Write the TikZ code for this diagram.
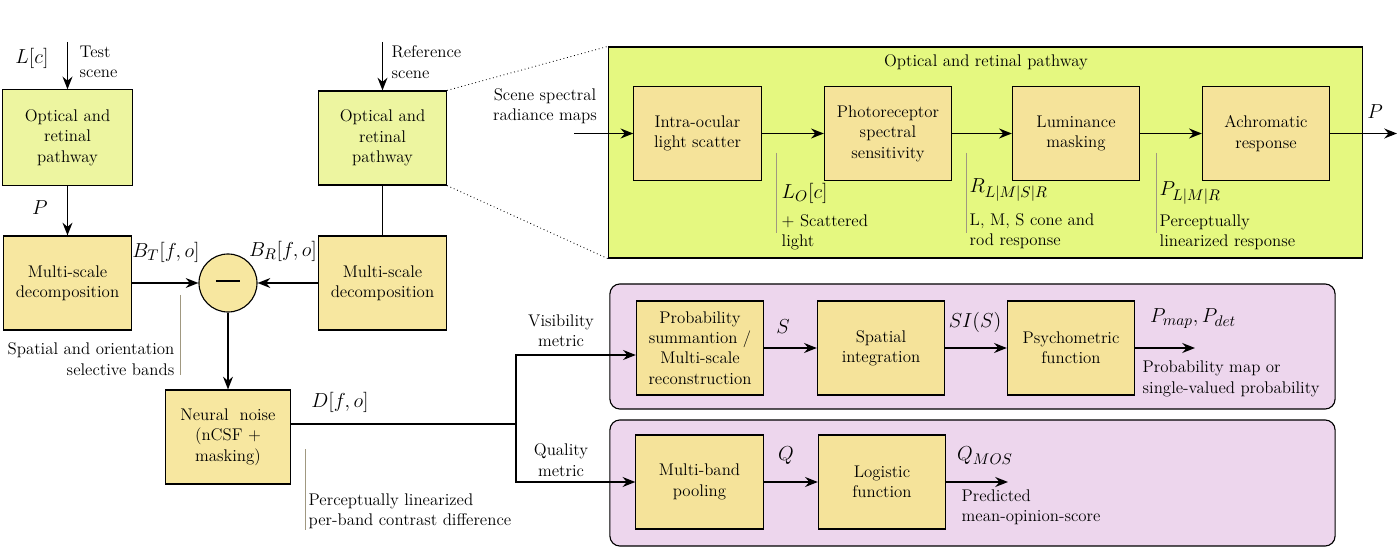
\documentclass[tikz,border=0pt]{standalone}
\usepackage{amsmath}
\usetikzlibrary{arrows.meta}

\definecolor{optgreen}{RGB}{237,245,160}
\definecolor{msyellow}{RGB}{247,231,160}
\definecolor{bigGreen}{RGB}{229,248,128}
\definecolor{subYellow}{RGB}{245,227,154}
\definecolor{lilac}{RGB}{237,214,237}
\definecolor{tick}{RGB}{160,152,128}

\tikzset{
  blk/.style={draw, line width=0.8pt, minimum width=3.18cm, minimum height=2.35cm, align=center, inner sep=1pt},
  arr/.style={line width=1.4pt, -{Stealth[length=9pt,width=7pt]}},
  wire/.style={line width=1.4pt},
  lbl/.style={align=left, anchor=west, inner sep=1pt},
  sig/.style={font=\fontsize{15}{18}\selectfont, inner sep=1pt},
  tickline/.style={draw=tick, line width=0.7pt}
}

\begin{document}
\begin{tikzpicture}[x=0.025cm, y=-0.025cm, font=\fontsize{12}{14.5}\selectfont]
	\useasboundingbox (0,0) rectangle (1400,550);
	
	% Test scene pathway
	\coordinate (inT) at (67.5,42);
	\node[blk, fill=optgreen, minimum width=3.23cm, minimum height=2.38cm] (optT) at (67.5,137.5) {Optical and\\retinal\\pathway};
	\node[blk, fill=msyellow] (msT) at (67.5,283) {Multi-scale\\decomposition};
	\node[sig] at (32,58) {$L[c]$};
	\node[lbl] at (78,62) {Test\\scene};
	\node[sig] at (40,208) {$P$};
	\draw[arr] (inT) -- (optT.north);
	\draw[arr] (optT.south) -- (msT.north);
	
	% Reference scene pathway
	\coordinate (inR) at (382.5,42);
	\node[blk, fill=optgreen, minimum width=3.2cm] (optR) at (382.5,138) {Optical and\\retinal\\pathway};
	\node[blk, fill=msyellow] (msR) at (382.5,283) {Multi-scale\\decomposition};
	\node[lbl] at (390,62) {Reference\\scene};
	\draw[arr] (inR) -- (optR.north);
	\draw[wire] (optR.south) -- (msR.north);
	
	% Difference and neural noise
	\node[draw, line width=0.8pt, circle, fill=msyellow, minimum size=1.45cm, inner sep=0pt] (diff) at (228,283) {\rule[0.6ex]{0.6cm}{1.6pt}};
	\node[blk, fill=msyellow, minimum width=3.13cm] (noise) at (228,437) {Neural\ \ noise\\(nCSF +\\masking)};
	\draw[arr] (msT.east) -- (diff.west);
	\draw[arr] (msR.west) -- (diff.east);
	\draw[arr] (diff.south) -- (noise.north);
	\node[sig] at (166,252) {$B_T[f,o]$};
	\node[sig] at (283,251) {$B_R[f,o]$};
	\node[sig] at (340,402) {$D[f,o]$};
	
	% Notes
	\draw[tickline] (180,295) -- (180,375);
	\node[align=right, anchor=east, inner sep=1pt] at (176,359) {Spatial and orientation\\selective bands};
	\draw[tickline] (305,449) -- (305,530);
	\node[lbl] at (307,511) {Perceptually linearized\\per-band contrast difference};
	
	% Optical and retinal pathway (detail)
	\node[draw, line width=0.8pt, fill=bigGreen, minimum width=18.85cm, minimum height=5.275cm] (oret) at (985.5,152.5) {};
	\draw[dotted, line width=0.6pt] (optR.north east) -- (oret.north west);
	\draw[dotted, line width=0.6pt] (optR.south east) -- (oret.south west);
	\node at (986,62) {Optical and retinal pathway};
	\node[align=center] at (545,106) {Scene spectral\\radiance maps};
	\coordinate (inS) at (574,133.5);
	\coordinate (outP) at (1397,133.5);
	\node[blk, fill=subYellow] (scat) at (697.5,133.5) {Intra-ocular\\light scatter};
	\node[blk, fill=subYellow] (photo) at (888,133.5) {Photoreceptor\\spectral\\sensitivity};
	\node[blk, fill=subYellow] (lum) at (1076,133.5) {Luminance\\masking};
	\node[blk, fill=subYellow] (achro) at (1266,133.5) {Achromatic\\response};
	\draw[arr] (inS) -- (scat.west);
	\foreach \a/\b in {scat/photo, photo/lum, lum/achro}
		\draw[arr] (\a.east) -- (\b.west);
	\draw[arr] (achro.east) -- (outP);
	\node[sig] at (1375,112) {$P$};
	\foreach \x in {776, 966, 1156}
		\draw[tickline] (\x,153) -- (\x,233);
	\node[sig, anchor=west] at (780,193) {$L_O[c]$};
	\node[lbl] at (780,232) {+ Scattered\\light};
	\node[sig, anchor=west] at (968,190) {$R_{L|M|S|R}$};
	\node[lbl] at (968,231) {L, M, S cone and\\rod response};
	\node[sig, anchor=west] at (1158,193) {$P_{L|M|R}$};
	\node[lbl] at (1158,232) {Perceptually\\linearized response};
	
	% Visibility metric
	\node[draw, line width=0.8pt, fill=lilac, rounded corners=0.25cm, minimum width=18.125cm, minimum height=3.125cm] (vis) at (972.5,346.5) {};
	\node[blk, fill=subYellow] (prob) at (700,348) {Probability\\summantion /\\Multi-scale\\reconstruction};
	\node[blk, fill=subYellow] (spint) at (881,348) {Spatial\\integration};
	\node[blk, fill=subYellow] (psych) at (1071,348) {Psychometric\\function};
	\coordinate (outV) at (1195,348);
	\draw[arr] (prob.east) -- (spint.west);
	\draw[arr] (spint.east) -- (psych.west);
	\draw[arr] (psych.east) -- (outV);
	\node[sig] at (783,327) {$S$};
	\node[sig] at (975,322) {$SI(S)$};
	\node[sig] at (1193,319) {$P_{map}, P_{det}$};
	\node[lbl] at (1141,379) {Probability map or\\single-valued probability};
	
	% Quality metric
	\node[draw, line width=0.8pt, fill=lilac, rounded corners=0.25cm, minimum width=18.125cm, minimum height=3.15cm] (qual) at (972.5,483) {};
	\node[blk, fill=subYellow] (pool) at (699.5,482) {Multi-band\\pooling};
	\node[blk, fill=subYellow] (logi) at (882,482) {Logistic\\function};
	\coordinate (outQ) at (1008,482);
	\draw[arr] (pool.east) -- (logi.west);
	\draw[arr] (logi.east) -- (outQ);
	\node[sig] at (786,456) {$Q$};
	\node[sig] at (985,456) {$Q_{MOS}$};
	\node[lbl] at (960,507) {Predicted\\mean-opinion-score};
	
	% Branching of D[f,o]
	\coordinate (br) at (516,424);
	\draw[wire] (br -| noise.east) -- (br);
	\draw[arr] (br) |- ([yshift=-0.175cm]prob.west);
	\draw[arr] (br) |- (pool.west);
	\node[align=center] at (561,331) {Visibility\\metric};
	\node[align=center] at (561,460) {Quality\\metric};
\end{tikzpicture}
\end{document}
